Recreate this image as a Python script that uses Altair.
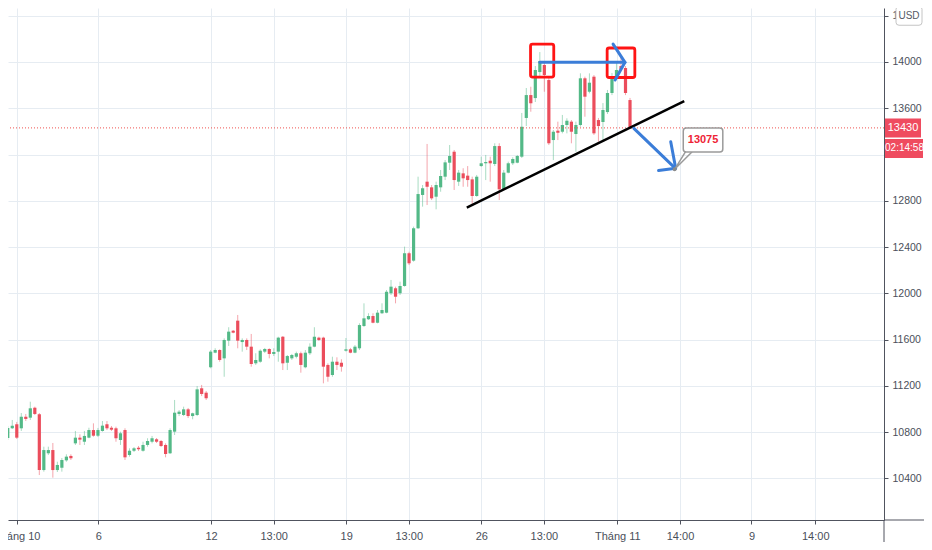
import altair as alt
import pandas as pd

# ---- candle data (price) ----
opens = [10748, 10832, 10867, 10832, 10932, 10924, 11010, 10953, 10471, 10616,
         10644, 10471, 10491, 10555, 10593, 10702, 10751, 10716, 10751, 10817,
         10768, 10809, 10867, 10837, 10832, 10731, 10817, 10601, 10638, 10664,
         10638, 10688, 10716, 10737, 10722, 10688, 10616, 10803, 10956, 10947,
         10996, 10938, 10947, 11178, 11140, 11360, 11486, 11509, 11437, 11590,
         11676, 11763, 11578, 11596, 11538, 11394, 11408, 11495, 11518, 11475,
         11495, 11624, 11399, 11437, 11451, 11481, 11360, 11481, 11538, 11616,
         11616, 11380, 11293, 11408, 11399, 11503, 11515, 11486, 11524, 11717,
         11775, 11803, 11745, 11827, 11832, 12000, 12043, 12000, 12063, 12346,
         12282, 12562, 12850, 12965, 12916, 12835, 12916, 13008, 13129, 13224,
         12965, 13037, 13017, 12985, 12841, 13100, 13124, 13146, 13118, 13273,
         12899, 13043, 13124, 13129, 13181, 13516, 13714, 13688, 13913, 13974,
         13844, 13325, 13406, 13397, 13455, 13484, 13377, 13455, 13859, 13743,
         13873, 13498, 13481, 13567, 13732, 13862, 13965, 13948, 13671]
highs = [10852, 10904, 10887, 10964, 10956, 11062, 11019, 10964, 10673, 10673,
         10705, 10543, 10575, 10607, 10607, 10809, 10780, 10809, 10837, 10875,
         10835, 10895, 10895, 10852, 10846, 10803, 10832, 10659, 10670, 10679,
         10716, 10746, 10766, 10748, 10731, 10702, 10832, 11077, 10990, 11019,
         11008, 10967, 11198, 11207, 11155, 11509, 11524, 11515, 11610, 11706,
         11682, 11812, 11610, 11610, 11648, 11481, 11515, 11527, 11524, 11524,
         11624, 11630, 11466, 11475, 11495, 11495, 11509, 11567, 11706, 11624,
         11624, 11394, 11451, 11446, 11429, 11613, 11527, 11552, 11740, 11913,
         11827, 11827, 11855, 11913, 12028, 12115, 12057, 12100, 12403, 12359,
         12576, 13008, 12936, 13291, 12936, 12965, 13066, 13152, 13282, 13239,
         13066, 13081, 13100, 13008, 13023, 13181, 13196, 13181, 13297, 13297,
         13066, 13138, 13176, 13196, 13559, 13775, 13786, 13965, 14086, 14000,
         13862, 13412, 13484, 13542, 13513, 13498, 13484, 13902, 13873, 13902,
         13887, 13516, 13645, 13758, 13905, 13991, 14043, 13965, 13689]
lows = [10731, 10826, 10740, 10809, 10895, 10904, 10947, 10428, 10457, 10601,
        10405, 10454, 10457, 10543, 10558, 10688, 10688, 10688, 10746, 10759,
        10757, 10803, 10817, 10809, 10716, 10688, 10558, 10587, 10627, 10636,
        10630, 10673, 10702, 10705, 10670, 10581, 10610, 10774, 10938, 10938,
        10921, 10910, 10938, 11111, 11077, 11351, 11481, 11408, 11278, 11544,
        11654, 11524, 11495, 11509, 11365, 11380, 11399, 11483, 11437, 11457,
        11408, 11336, 11336, 11423, 11437, 11313, 11351, 11466, 11533, 11587,
        11221, 11235, 11278, 11336, 11322, 11495, 11481, 11481, 11509, 11708,
        11769, 11740, 11740, 11821, 11827, 11985, 11913, 11985, 12057, 12244,
        12273, 12556, 12749, 12763, 12806, 12726, 12878, 12979, 13066, 12893,
        12928, 12921, 12921, 12772, 12835, 13094, 12979, 12965, 13100, 12806,
        12893, 13037, 13109, 13124, 13170, 13446, 13570, 13654, 13879, 13743,
        13282, 13152, 13325, 13383, 13383, 13297, 13224, 13440, 13527, 13729,
        13369, 13311, 13325, 13550, 13714, 13844, 13922, 13714, 13425]
closes = [10835, 10855, 10751, 10932, 10913, 11005, 10956, 10471, 10644, 10644,
          10471, 10515, 10558, 10587, 10573, 10751, 10734, 10766, 10817, 10768,
          10817, 10855, 10832, 10820, 10746, 10789, 10581, 10638, 10659, 10651,
          10688, 10722, 10746, 10716, 10679, 10610, 10817, 10967, 10976, 10996,
          10938, 10962, 11169, 11129, 11092, 11495, 11509, 11423, 11596, 11668,
          11659, 11590, 11596, 11538, 11388, 11423, 11503, 11518, 11475, 11492,
          11616, 11394, 11457, 11466, 11481, 11380, 11486, 11538, 11624, 11596,
          11365, 11278, 11408, 11380, 11365, 11515, 11486, 11538, 11725, 11783,
          11803, 11745, 11832, 11855, 12013, 12057, 11970, 12063, 12346, 12259,
          12562, 12858, 12908, 12921, 12821, 12936, 13014, 13132, 13187, 12979,
          13043, 12994, 12979, 12841, 13008, 13124, 13135, 13124, 13273, 12899,
          13043, 13124, 13161, 13187, 13440, 13714, 13643, 13931, 14009, 13887,
          13297, 13397, 13388, 13455, 13492, 13397, 13455, 13859, 13700, 13821,
          13383, 13446, 13585, 13732, 13862, 13931, 13939, 13732, 13430]

# ---- axes ----
tick_pos = [1.973, 20.08, 45.08, 58.98, 75.05, 88.93, 105.02, 118.90, 135.19, 149.09, 164.94, 179.08]
tick_labels = ["Tháng 10", "6", "12", "13:00", "19", "13:00", "26", "13:00", "Tháng 11", "14:00", "9", "14:00"]
y_ticks = [10400, 10800, 11200, 11600, 12000, 12400, 12800, 13200, 13600, 14000, 14400]
x_domain = [1.162, 193.22]
y_domain = [10039, 14467]

last_price = [13430]
last_price_text = ["13430"]
countdown_text = ["02:14:58"]
target_text = ["13075"]
currency = ["USD"]

# ---- drawn annotations (candle index, price) ----
sq_i = [115.94, 132.93]
sq_i2 = [121.09, 139.07]
sq_p = [13870, 13866]
sq_p2 = [14155, 14121]

blue_i = [118.03, 136.88, 134.25, 136.88, 134.68, 138.85, 148.06, 147.03, 148.13, 144.33]
blue_p = [13997, 13997, 14155, 13997, 13844, 13426, 13080, 13311, 13081, 13062]
blue_seg = [0, 0, 1, 1, 1, 2, 2, 3, 3, 3]

trend_i = [101.8, 150.03]
trend_p = [12741, 13662]

call_box_i = [149.81]
call_box_i2 = [158.58]
call_box_p = [13222]
call_box_p2 = [13429]
call_text_i = [154.2]
call_text_p = [13325]
pointer_i = [150.32, 147.9, 151.79]
pointer_p = [13224, 13072, 13224]
dot_i = [147.9]
dot_p = [13072]

# ---- tables ----
n = len(opens)
df = pd.DataFrame({"i": list(range(n)), "o": opens, "h": highs, "l": lows, "c": closes})
df["dir"] = ["up" if c >= o else "down" for o, c in zip(opens, closes)]

FONT = "Liberation Sans Narrow, Liberation Sans, Arial, sans-serif"
GREEN = "#53b987"
RED = "#eb4d5c"
BLUE = "#3b7dd8"
AXIS = "#50535e"

xs = alt.Scale(domain=x_domain, nice=False, zero=False)
ys = alt.Scale(domain=y_domain, nice=False, zero=False)
cs = alt.Scale(domain=["up", "down"], range=[GREEN, RED])

label_expr = ("[" + ",".join("'%s'" % t for t in tick_labels) + "][indexof(["
              + ",".join(str(v) for v in tick_pos) + "], datum.value)]")

xaxis = alt.Axis(values=tick_pos, labelExpr=label_expr, title="", grid=True,
                 gridColor="#e6ecf2", gridWidth=1, domainColor=AXIS,
                 tickColor=AXIS, tickSize=4, labelFontSize=11,
                 labelColor="#4a4f5a", labelFont=FONT, labelPadding=6,
                 labelFlush=False, labelOverlap=False)
yaxis = alt.Axis(values=y_ticks, format="d", orient="right", title="", grid=True,
                 gridColor="#e6ecf2", gridWidth=1, domainColor=AXIS,
                 tickColor=AXIS, tickSize=4, labelFontSize=10.5,
                 labelColor="#4a4f5a", labelFont=FONT, labelPadding=4,
                 labelFlush=False, labelOverlap=False)

wicks = alt.Chart(df).mark_rule(strokeWidth=1, opacity=0.5, clip=True).encode(
    x=alt.X("i:Q", scale=xs, axis=xaxis),
    y=alt.Y("l:Q", scale=ys, axis=yaxis),
    y2="h:Q",
    color=alt.Color("dir:N", scale=cs, legend=None),
)
bodies = alt.Chart(df).mark_bar(size=3.2, clip=True).encode(
    x=alt.X("i:Q", scale=xs),
    y=alt.Y("o:Q", scale=ys),
    y2="c:Q",
    color=alt.Color("dir:N", scale=cs, legend=None),
)

lp_df = pd.DataFrame({"p": last_price, "t": last_price_text, "cd": countdown_text})
price_line = alt.Chart(lp_df).mark_rule(color="#ef5350", strokeDash=[1, 2], strokeWidth=1).encode(
    y=alt.Y("p:Q", scale=ys)
)

# axis lines continuing past the corner, as in the trading screen
corner_x = alt.Chart(lp_df).mark_rule(color=AXIS, strokeWidth=1).encode(
    x=alt.value(876), x2=alt.value(916), y=alt.value(512)
)
corner_y = alt.Chart(lp_df).mark_rule(color=AXIS, strokeWidth=1).encode(
    x=alt.value(876), y=alt.value(512), y2=alt.value(534)
)

sq_df = pd.DataFrame({"i": sq_i, "i2": sq_i2, "p": sq_p, "p2": sq_p2})
squares = alt.Chart(sq_df).mark_rect(fillOpacity=0, stroke="#ff1414", strokeWidth=2.8,
                                     cornerRadius=2).encode(
    x=alt.X("i:Q", scale=xs), x2="i2:Q", y=alt.Y("p:Q", scale=ys), y2="p2:Q"
)

blue_df = pd.DataFrame({"i": blue_i, "p": blue_p, "seg": blue_seg, "k": list(range(len(blue_i)))})
blue = alt.Chart(blue_df).mark_line(color=BLUE, strokeWidth=3, strokeCap="round",
                                    strokeJoin="round").encode(
    x=alt.X("i:Q", scale=xs), y=alt.Y("p:Q", scale=ys), detail="seg:N", order="k:Q"
)

tr_df = pd.DataFrame({"i": trend_i, "p": trend_p})
trend = alt.Chart(tr_df).mark_line(color="black", strokeWidth=2.5).encode(
    x=alt.X("i:Q", scale=xs), y=alt.Y("p:Q", scale=ys)
)

cb_df = pd.DataFrame({"i": call_box_i, "i2": call_box_i2, "p": call_box_p, "p2": call_box_p2,
                      "ti": call_text_i, "tp": call_text_p, "t": target_text})
call_box = alt.Chart(cb_df).mark_rect(fill="white", stroke="#9a9a9a", strokeWidth=1.5,
                                      cornerRadius=3).encode(
    x=alt.X("i:Q", scale=xs), x2="i2:Q", y=alt.Y("p:Q", scale=ys), y2="p2:Q"
)
call_text = alt.Chart(cb_df).mark_text(color="#ee2436", fontSize=11, fontWeight="bold",
                                       font=FONT).encode(
    x=alt.X("ti:Q", scale=xs), y=alt.Y("tp:Q", scale=ys), text="t:N"
)
ptr_df = pd.DataFrame({"i": pointer_i, "p": pointer_p, "k": [0, 1, 2]})
pointer = alt.Chart(ptr_df).mark_line(color="#9a9a9a", strokeWidth=1.5).encode(
    x=alt.X("i:Q", scale=xs), y=alt.Y("p:Q", scale=ys), order="k:Q"
)
dot_df = pd.DataFrame({"i": dot_i, "p": dot_p})
dot = alt.Chart(dot_df).mark_point(filled=True, color="#8a8a8a", size=16, opacity=1).encode(
    x=alt.X("i:Q", scale=xs), y=alt.Y("p:Q", scale=ys)
)

# right-hand price tag and countdown tag, attached to the last price
tag_path = "M-0.9,-0.475H0.9V0.475H-0.9Z M-0.9,0.55H1.0V1.5H-0.9Z"
tags = alt.Chart(lp_df).mark_point(shape=tag_path, filled=True, color="#ef4b5f", size=1600,
                                   opacity=1, strokeWidth=0).encode(
    x=alt.value(895), y=alt.Y("p:Q", scale=ys)
)
tag_text = alt.Chart(lp_df).mark_text(color="white", fontSize=11, font=FONT).encode(
    x=alt.value(895), y=alt.Y("p:Q", scale=ys), text="t:N"
)
cd_text = alt.Chart(lp_df).mark_text(color="white", fontSize=10, font=FONT, dy=20.5).encode(
    x=alt.value(896.5), y=alt.Y("p:Q", scale=ys), text="cd:N"
)

# USD badge over the top price label
usd_df = pd.DataFrame({"p": [y_ticks[-1]], "t": currency})
badge_path = ("M-0.5,-0.475H0.5Q0.65,-0.475 0.65,-0.325V0.325Q0.65,0.475 0.5,0.475"
              "H-0.5Q-0.65,0.475 -0.65,0.325V-0.325Q-0.65,-0.475 -0.5,-0.475Z")
badge = alt.Chart(usd_df).mark_point(shape=badge_path, filled=True, fill="white",
                                     stroke="#c4c4c4", strokeWidth=1, size=1600,
                                     opacity=1).encode(
    x=alt.value(901), y=alt.Y("p:Q", scale=ys)
)
badge_text = alt.Chart(usd_df).mark_text(color="#555a64", fontSize=10, font=FONT, dy=0.5).encode(
    x=alt.value(901), y=alt.Y("p:Q", scale=ys), text="t:N"
)

chart = alt.layer(
    wicks, bodies, price_line, corner_x, corner_y, trend, squares, blue, pointer, call_box,
    call_text, dot, tags, tag_text, cd_text, badge, badge_text
).properties(
    width=876, height=512,
    autosize=alt.AutoSizeParams(type="none"),
    padding={"left": 0, "top": 0, "right": 40, "bottom": 22},
    background="white",
).configure_view(strokeWidth=0)

chart.save("out.html", embed_options={"renderer": "svg", "actions": False})
